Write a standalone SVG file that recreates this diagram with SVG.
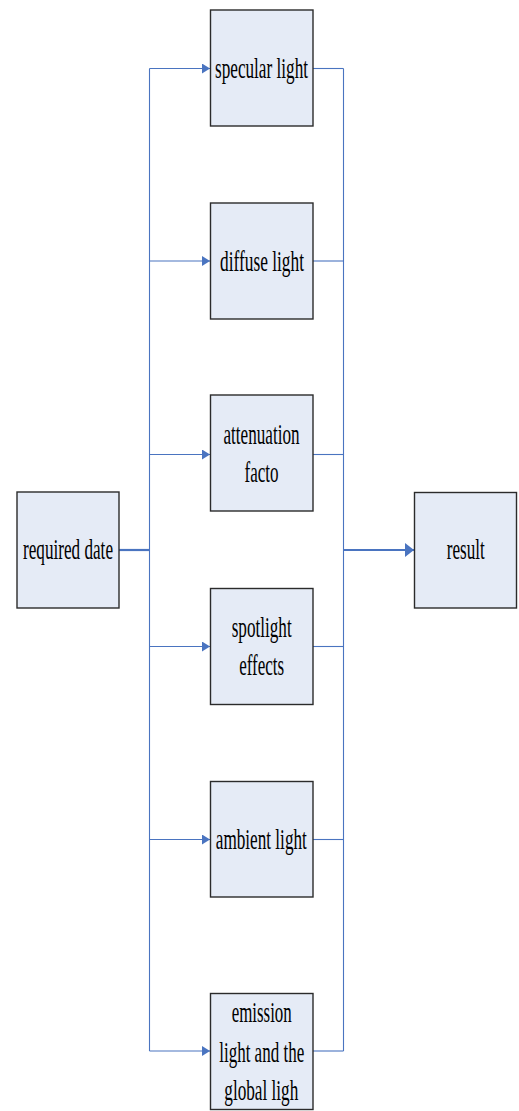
<svg xmlns="http://www.w3.org/2000/svg" width="519" height="1111" viewBox="0 0 519 1111">
  <style>
    .box { fill: #e5ebf6; stroke: #2b2b2b; stroke-width: 1.4; }
    .lbl { font-family: "Liberation Serif", "Times New Roman", serif; font-size: 30px; fill: #000; text-anchor: middle; }
    .wire { fill: none; stroke: #4a74c0; stroke-width: 1.1; }
    .wire-bold { fill: none; stroke: #4a74c0; stroke-width: 2.2; }
  </style>
  <defs>
    <marker id="arrow" markerUnits="userSpaceOnUse" markerWidth="10" markerHeight="12" refX="8" refY="5" orient="auto">
      <path d="M0,0 L8,5 L0,10 Z" fill="#4a74c0"/>
    </marker>
    <marker id="arrow-bold" markerUnits="userSpaceOnUse" markerWidth="10" markerHeight="16" refX="9" refY="7" orient="auto">
      <path d="M0,0 L9,7 L0,14 Z" fill="#4a74c0"/>
    </marker>
  </defs>

  <!-- connectors -->
  <g id="connectors">
    <path class="wire-bold" d="M119,550 H149.5"/>
    <path class="wire" d="M149.5,68.5 V1051"/>
    <path class="wire" d="M343.5,68.5 V1051"/>
    <path class="wire" d="M149.5,68.5 H210" marker-end="url(#arrow)"/>
    <path class="wire" d="M149.5,261 H210" marker-end="url(#arrow)"/>
    <path class="wire" d="M149.5,454.5 H210" marker-end="url(#arrow)"/>
    <path class="wire" d="M149.5,646.5 H210" marker-end="url(#arrow)"/>
    <path class="wire" d="M149.5,839.5 H210" marker-end="url(#arrow)"/>
    <path class="wire" d="M149.5,1051 H210" marker-end="url(#arrow)"/>
    <path class="wire" d="M313,68.5 H343.5"/>
    <path class="wire" d="M313,261 H343.5"/>
    <path class="wire" d="M313,454.5 H343.5"/>
    <path class="wire" d="M313,646.5 H343.5"/>
    <path class="wire" d="M313,839.5 H343.5"/>
    <path class="wire" d="M313,1051 H343.5"/>
    <path class="wire-bold" d="M343.5,550 H414" marker-end="url(#arrow-bold)"/>
  </g>

  <g id="required-date">
    <rect class="box" x="17" y="492" width="102" height="116"/>
    <text class="lbl" x="68" y="559" textLength="90" lengthAdjust="spacingAndGlyphs">required date</text>
  </g>

  <g id="specular-light">
    <rect class="box" x="210.5" y="10" width="102.5" height="116"/>
    <text class="lbl" x="261.5" y="78" textLength="93" lengthAdjust="spacingAndGlyphs">specular light</text>
  </g>

  <g id="diffuse-light">
    <rect class="box" x="210.5" y="203" width="102.5" height="116"/>
    <text class="lbl" x="262" y="271" textLength="84" lengthAdjust="spacingAndGlyphs">diffuse light</text>
  </g>

  <g id="attenuation-factor">
    <rect class="box" x="210.5" y="395" width="102.5" height="116"/>
    <text class="lbl" x="261.5" y="443.5" textLength="76" lengthAdjust="spacingAndGlyphs">attenuation</text>
    <text class="lbl" x="261.5" y="482" textLength="34" lengthAdjust="spacingAndGlyphs">facto</text>
  </g>

  <g id="spotlight-effects">
    <rect class="box" x="210.5" y="588.5" width="102.5" height="116"/>
    <text class="lbl" x="261.7" y="637" textLength="60" lengthAdjust="spacingAndGlyphs">spotlight</text>
    <text class="lbl" x="261.7" y="674.5" textLength="45" lengthAdjust="spacingAndGlyphs">effects</text>
  </g>

  <g id="ambient-light">
    <rect class="box" x="210.5" y="781.5" width="102.5" height="115.5"/>
    <text class="lbl" x="261.3" y="848.5" textLength="91" lengthAdjust="spacingAndGlyphs">ambient light</text>
  </g>

  <g id="emission-global-light">
    <rect class="box" x="210.5" y="993.5" width="102.5" height="116"/>
    <text class="lbl" x="261.7" y="1022" textLength="60" lengthAdjust="spacingAndGlyphs">emission</text>
    <text class="lbl" x="261.7" y="1062" textLength="85" lengthAdjust="spacingAndGlyphs">light and the</text>
    <text class="lbl" x="261.3" y="1100" textLength="74" lengthAdjust="spacingAndGlyphs">global ligh</text>
  </g>

  <g id="result">
    <rect class="box" x="414.5" y="492.5" width="102" height="115.5"/>
    <text class="lbl" x="465.8" y="559" textLength="38" lengthAdjust="spacingAndGlyphs">result</text>
  </g>
</svg>
